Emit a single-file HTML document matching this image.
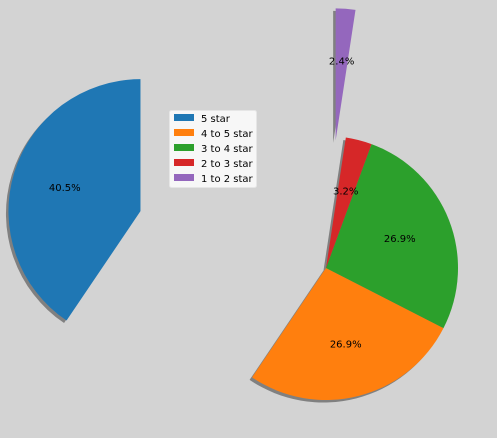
<!DOCTYPE html>
<html><head><meta charset="utf-8"><style>
body{margin:0;background:#d3d3d3;}
svg{display:block;font-family:"DejaVu Sans","Liberation Sans",sans-serif;}
</style></head><body>
<svg id="chart" width="497" height="438">
<rect width="497" height="438" fill="#d3d3d3"/>
<g id="shadows"></g><g id="slices"></g><g id="labels"></g>
<g>
<rect x="169.5" y="110.5" width="87" height="77" rx="2" fill="#f7f7f7" stroke="#e6e6e6"/>
<g id="legend"></g>
</g>
</svg>
<script>
const categories = ["5 star","4 to 5 star","3 to 4 star","2 to 3 star","1 to 2 star"];
const values = [40.5, 26.9, 26.9, 3.2, 2.4];
const explode = [1.47, 0, 0, 0, 0.97];
const colors = ["#1f77b4","#ff7f0e","#2ca02c","#d62728","#9467bd"];
const NS="http://www.w3.org/2000/svg";
const cx=326, cy=268, R=132, startAngle=90;
const total=values.reduce((a,b)=>a+b,0);
let a0=startAngle;
const sh=document.getElementById('shadows'), sl=document.getElementById('slices'), lb=document.getElementById('labels');
function pt(x,y,ang,r){const t=ang*Math.PI/180;return [x+r*Math.cos(t), y-r*Math.sin(t)];}
values.forEach((v,i)=>{
  const span=v/total*360, a1=a0+span, mid=(a0+a1)/2;
  const [ox,oy]=pt(cx,cy,mid,explode[i]*R);
  const [x0,y0]=pt(ox,oy,a0,R), [x1,y1]=pt(ox,oy,a1,R);
  const d=`M${ox},${oy} L${x0},${y0} A${R},${R} 0 ${span>180?1:0} 0 ${x1},${y1} Z`;
  const s=document.createElementNS(NS,'path');
  s.setAttribute('d',d);s.setAttribute('fill','rgba(60,60,60,0.55)');
  s.setAttribute('transform','translate(-2.5,2.5)');
  
  
  sh.appendChild(s);
  const p=document.createElementNS(NS,'path');
  p.setAttribute('d',d);p.setAttribute('fill',colors[i]);
  
  
  sl.appendChild(p);
  const [lx,ly]=pt(ox,oy,mid,0.6*R);
  const t=document.createElementNS(NS,'text');
  t.setAttribute('x',lx);t.setAttribute('y',ly+3);t.setAttribute('text-anchor','middle');
  t.setAttribute('font-size','10');t.textContent=v.toFixed(1)+'%';
  
  
  lb.appendChild(t);
  a0=a1;
});
const lg=document.getElementById('legend');
categories.forEach((c,i)=>{
  const y=114+i*15;
  const r=document.createElementNS(NS,'rect');
  r.setAttribute('x',174);r.setAttribute('y',y);r.setAttribute('width',20);r.setAttribute('height',7);r.setAttribute('fill',colors[i]);
  
  
  lg.appendChild(r);
  const t=document.createElementNS(NS,'text');
  t.setAttribute('x',201);t.setAttribute('y',y+8);t.setAttribute('font-size','10');t.textContent=c;
  
  
  lg.appendChild(t);
});
</script>
</body></html>
